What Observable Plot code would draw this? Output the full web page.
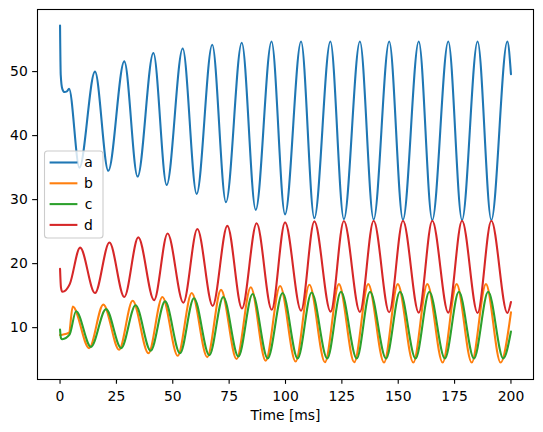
<!DOCTYPE html>
<html>
<head>
<meta charset="utf-8">
<script src="https://cdn.jsdelivr.net/npm/d3@7"></script>
<script src="https://cdn.jsdelivr.net/npm/@observablehq/plot@0.6"></script>
<style>
  html, body { margin: 0; padding: 0; background: #fff; }
  #chart { width: 543px; height: 432px; }
</style>
</head>
<body>
<div id="chart"></div>
<script>
// ---- data ----
const seriesNames = ["a", "b", "c", "d"];
const seriesColors = ["#1f77b4", "#ff7f0e", "#2ca02c", "#d62728"];

const timeA = [0, 0.3, 1.0, 2.0, 3.0, 4.0, 8.6, 15.5, 21.4, 28.5, 34.4, 41.4, 47.3, 54.4, 60.6, 67.5, 73.6, 80.6, 86.8, 93.8, 99.8, 106.9, 112.8, 119.9, 125.9, 133.0, 139.1, 146.0, 152.1, 159.1, 165.1, 172.2, 178.3, 185.2, 191.3, 198.4, 200];
const valueA = [57.2, 49.5, 47.3, 46.8, 46.9, 47.3, 35.0, 50.0, 34.5, 51.6, 33.6, 52.9, 32.3, 53.6, 30.9, 54.2, 29.6, 54.5, 28.4, 54.7, 27.7, 54.7, 27.1, 54.7, 26.95, 54.7, 26.9, 54.7, 26.85, 54.7, 26.8, 54.7, 26.8, 54.7, 26.8, 54.7, 49.6];

const timeB = [0, 1.0, 4.0, 5.6, 12.9, 19.2, 26.2, 32.2, 39.2, 45.4, 52.2, 58.4, 65.3, 71.4, 78.3, 84.6, 91.2, 97.6, 104.5, 110.6, 117.5, 123.7, 130.5, 136.7, 143.7, 149.8, 156.7, 162.9, 169.7, 175.9, 182.6, 188.9, 195.4, 200];
const valueB = [8.85, 8.9, 9.2, 13.3, 6.8, 13.6, 6.56, 14.2, 6.0, 14.8, 5.6, 15.4, 5.4, 15.9, 5.1, 16.3, 4.84, 16.5, 4.7, 16.7, 4.6, 16.8, 4.6, 16.8, 4.55, 16.8, 4.55, 16.8, 4.55, 16.8, 4.55, 16.8, 4.55, 12.4];

const timeC = [0, 0.4, 1.0, 4.2, 7.1, 13.7, 20.4, 27.1, 33.5, 40.2, 46.6, 53.2, 59.4, 66.2, 72.4, 79.1, 85.4, 92.1, 98.7, 105.4, 111.6, 118.5, 124.6, 131.6, 137.5, 144.6, 150.8, 157.7, 163.8, 170.7, 176.9, 183.6, 189.9, 196.6, 200];
const valueC = [9.7, 8.4, 8.2, 8.9, 12.55, 7.0, 12.9, 6.8, 13.5, 6.4, 14.1, 6.0, 14.6, 5.7, 14.8, 5.5, 15.25, 5.2, 15.4, 5.2, 15.5, 5.2, 15.6, 5.2, 15.6, 5.2, 15.6, 5.2, 15.6, 5.2, 15.6, 5.2, 15.6, 5.2, 9.4];

const timeD = [0, 0.4, 1.0, 2.0, 4.3, 8.9, 15.5, 21.9, 28.5, 34.7, 41.7, 47.7, 54.7, 60.9, 67.7, 74.2, 80.7, 87.2, 93.9, 99.8, 106.9, 112.8, 120.0, 125.9, 133.0, 139.1, 146.0, 152.1, 159.1, 165.1, 172.2, 178.3, 185.2, 191.3, 198.4, 200];
const valueD = [19.2, 16.3, 15.6, 15.7, 16.8, 22.5, 15.4, 23.3, 14.8, 24.1, 14.3, 24.7, 13.9, 25.4, 13.4, 25.9, 13.0, 26.3, 12.8, 26.45, 12.65, 26.6, 12.5, 26.65, 12.45, 26.7, 12.4, 26.7, 12.35, 26.7, 12.35, 26.7, 12.3, 26.7, 12.3, 14.0];

const xTicks = [0, 25, 50, 75, 100, 125, 150, 175, 200];
const yTicks = [10, 20, 30, 40, 50];
const xLabel = "Time [ms]";

// ---- build table ----
const seriesData = [[timeA, valueA], [timeB, valueB], [timeC, valueC], [timeD, valueD]];
const rows = [];
seriesData.forEach(([ts, vs], i) => {
  ts.forEach((t, j) => rows.push({ series: seriesNames[i], time: t, value: vs[j] }));
});

const FS = 13.9;
const plot = Plot.plot({
  width: 543,
  height: 432,
  marginLeft: 37,
  marginRight: 10,
  marginTop: 9,
  marginBottom: 53,
  style: { fontFamily: "DejaVu Sans", fontSize: FS + "px", color: "black", background: "white", overflow: "visible" },
  x: { domain: [-10, 210] },
  y: { domain: [1.9, 59.7] },
  color: { domain: seriesNames, range: seriesColors },
  marks: [
    Plot.line(rows, { x: "time", y: "value", z: "series", stroke: "series", strokeWidth: 2.08, curve: "monotone-x", strokeLinejoin: "round" }),
    Plot.axisX({ ticks: xTicks, tickSize: 4.86, tickPadding: 6.5, strokeWidth: 1.1, fontSize: FS, label: xLabel, labelAnchor: "center", labelArrow: "none", labelOffset: 40 }),
    Plot.axisY({ ticks: yTicks, tickSize: 4.86, tickPadding: 4.86, strokeWidth: 1.1, fontSize: FS, label: null }),
    Plot.frame({ stroke: "black", strokeWidth: 1.1 })
  ]
});
document.getElementById("chart").appendChild(plot);

// ---- legend (matplotlib-style box inside the axes) ----
const svg = d3.select(plot);
const lg = svg.append("g").attr("font-family", "DejaVu Sans").attr("font-size", FS);
lg.append("rect")
  .attr("x", 44.5).attr("y", 151).attr("width", 58.5).attr("height", 87)
  .attr("rx", 3).attr("fill", "white").attr("fill-opacity", 0.8)
  .attr("stroke", "#cccccc").attr("stroke-width", 1.1);
seriesNames.forEach((name, i) => {
  const cy = 162.5 + i * 20.8;
  lg.append("line").attr("x1", 49.6).attr("x2", 77.4).attr("y1", cy).attr("y2", cy)
    .attr("stroke", seriesColors[i]).attr("stroke-width", 2.08);
  lg.append("text").attr("x", 88.5).attr("y", cy).attr("dy", "0.35em").attr("fill", "black").text(name);
});
</script>
</body>
</html>
